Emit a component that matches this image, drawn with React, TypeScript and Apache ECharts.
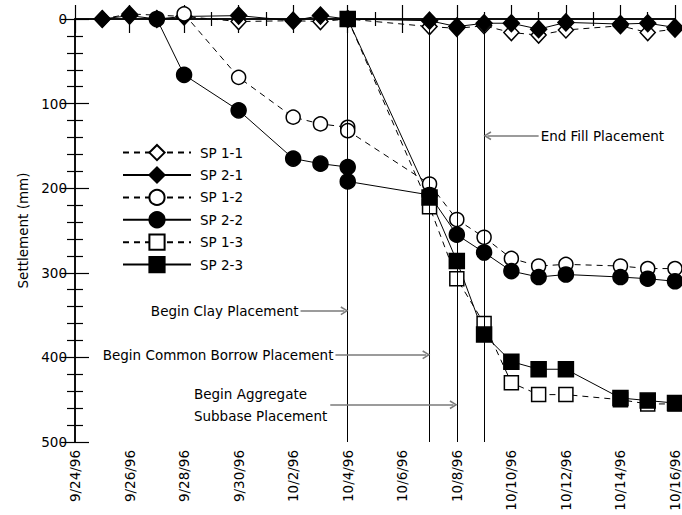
import React, { useEffect, useRef } from "react";
import * as echarts from "echarts";

const FONT = '"DejaVu Sans", Verdana, sans-serif';

// Tick labels (every 2 days)
const xTickLabels = [
  "9/24/96", "9/26/96", "9/28/96", "9/30/96", "10/2/96", "10/4/96",
  "10/6/96", "10/8/96", "10/10/96", "10/12/96", "10/14/96", "10/16/96",
];
const yTickValues = [0, 100, 200, 300, 400, 500];

// Series data (settlement in mm)
const sp11Dates = ["9/25/96", "9/26/96", "9/28/96", "9/30/96", "10/2/96", "10/3/96", "10/4/96", "10/7/96", "10/8/96", "10/9/96", "10/10/96", "10/11/96", "10/12/96", "10/14/96", "10/15/96", "10/16/96"];
const sp11Values = [0, -6, -3, 3, 2, 3, 0, 9, 11, 8, 16, 19, 13, 8, 16, 12];

const sp21Dates = ["9/25/96", "9/26/96", "9/27/96", "9/28/96", "9/30/96", "10/2/96", "10/3/96", "10/4/96", "10/7/96", "10/8/96", "10/9/96", "10/10/96", "10/11/96", "10/12/96", "10/14/96", "10/15/96", "10/16/96"];
const sp21Values = [0, -4, 0, -3, -4, 2, -4, 0, 2, 9, 5, 5, 12, 4, 6, 5, 10];

const sp12Dates = ["9/28/96", "9/30/96", "10/2/96", "10/3/96", "10/4/96", "10/4/96", "10/7/96", "10/8/96", "10/9/96", "10/10/96", "10/11/96", "10/12/96", "10/14/96", "10/15/96", "10/16/96"];
const sp12Values = [-6, 69, 116, 124, 128, 132, 195, 237, 258, 283, 292, 290, 292, 295, 295];

const sp22Dates = ["9/27/96", "9/28/96", "9/30/96", "10/2/96", "10/3/96", "10/4/96", "10/4/96", "10/7/96", "10/8/96", "10/9/96", "10/10/96", "10/11/96", "10/12/96", "10/14/96", "10/15/96", "10/16/96"];
const sp22Values = [0, 66, 108, 165, 171, 175, 192, 208, 255, 276, 298, 305, 302, 305, 307, 310];

const sp13Dates = ["10/4/96", "10/7/96", "10/8/96", "10/9/96", "10/10/96", "10/11/96", "10/12/96", "10/14/96", "10/15/96", "10/16/96"];
const sp13Values = [0, 222, 307, 360, 430, 444, 444, 450, 455, 455];

const sp23Dates = ["10/4/96", "10/7/96", "10/8/96", "10/9/96", "10/10/96", "10/11/96", "10/12/96", "10/14/96", "10/15/96", "10/16/96"];
const sp23Values = [0, 211, 286, 373, 405, 414, 414, 448, 451, 454];

// Event lines
const eventDates = ["10/4/96", "10/7/96", "10/8/96", "10/9/96"];

// Annotations
const annotationTexts = ["Begin Clay Placement", "Begin Common Borrow Placement", "Begin Aggregate\nSubbase Placement", "End Fill Placement"];
const annotationTargets = ["10/4/96", "10/7/96", "10/8/96", "10/9/96"];
const annotationLevels = [345, 397, 456, 138];
const annotationTails = [8.27, 9.55, 9.36, 17.0];

const dayOf = (s: string) => {
  const [m, d, y] = s.split("/").map(Number);
  const t = Date.UTC(1900 + y, m - 1, d);
  const t0 = Date.UTC(1996, 8, 24);
  return Math.round((t - t0) / 86400000);
};

const X_MAX = dayOf(xTickLabels[xTickLabels.length - 1]);

const chevron = "path://M5,0 L10,9 L8.4,10 L5,3.4 L1.6,10 L0,9 Z";

function makeSeries(name: string, dates: string[], values: number[], symbol: string, filled: boolean, dashed: boolean, size: number | number[]) {
  return {
    name,
    type: "line",
    data: dates.map((d, i) => [dayOf(d), values[i]]),
    symbol,
    symbolSize: size,
    showSymbol: true,
    clip: false,
    lineStyle: { color: "#000", width: 1, type: dashed ? [6, 5] : "solid" },
    itemStyle: { color: filled ? "#000" : "#fff", borderColor: "#000", borderWidth: 1.5 },
    emphasis: { disabled: true },
  } as any;
}

export default function App() {
  const ref = useRef<HTMLDivElement>(null);
  useEffect(() => {
    if (!ref.current) return;
    const chart = echarts.init(ref.current, undefined, { renderer: "svg" });
    const gray = "#7a7a7a";

    const axisCommon = {
      type: "value",
      min: 0,
      max: X_MAX,
      interval: 2,
      axisLine: { show: true, lineStyle: { color: "#000", width: 1.5 } },
      axisTick: { show: true, inside: true, length: 14, lineStyle: { color: "#000", width: 1.2 } },
      minorTick: { show: true, splitNumber: 2, length: 7, lineStyle: { color: "#000", width: 1.2 } },
      splitLine: { show: false },
      minorSplitLine: { show: false },
    };
    const yCommon = {
      type: "value",
      min: 0,
      max: 500,
      interval: 100,
      inverse: true,
      axisLine: { show: true, lineStyle: { color: "#000", width: 1.5 } },
      axisTick: { show: true, inside: true, length: 14, lineStyle: { color: "#000", width: 1.2 } },
      minorTick: { show: true, splitNumber: 5, length: 8, lineStyle: { color: "#000", width: 1.2 } },
      splitLine: { show: false },
      minorSplitLine: { show: false },
    };

    const s11 = makeSeries("SP 1-1", sp11Dates, sp11Values, "diamond", false, true, [15, 16]);
    const s21 = makeSeries("SP 2-1", sp21Dates, sp21Values, "diamond", true, false, [16, 17]);
    const s12 = makeSeries("SP 1-2", sp12Dates, sp12Values, "circle", false, true, 14);
    const s22 = makeSeries("SP 2-2", sp22Dates, sp22Values, "circle", true, false, 15);
    const s13 = makeSeries("SP 1-3", sp13Dates, sp13Values, "rect", false, true, 14);
    const s23 = makeSeries("SP 2-3", sp23Dates, sp23Values, "rect", true, false, 15);

    s11.markLine = {
      silent: true,
      animation: false,
      symbol: ["none", "none"],
      label: { show: false },
      emphasis: { disabled: true },
      data: [
        ...eventDates.map((d) => ({
          xAxis: dayOf(d),
          lineStyle: { color: "#000", width: 1, type: "solid" },
        })),
        ...annotationTexts.map((t, i) => [
          {
            coord: [annotationTails[i], annotationLevels[i]],
            symbol: "none",
            lineStyle: { color: gray, width: 1.5, type: "solid" },
          },
          {
            coord: [dayOf(annotationTargets[i]) + (annotationTails[i] > dayOf(annotationTargets[i]) ? 0.12 : -0.12), annotationLevels[i]],
            symbol: chevron,
            symbolSize: [9, 8],
          },
        ]),
      ],
    };

    const option: any = {
      animation: false,
      textStyle: { fontFamily: FONT },
      grid: { left: 75, right: 6, top: 19, bottom: 73, containLabel: false },
      legend: {
        show: true,
        orient: "vertical",
        left: 117,
        top: 139,
        itemWidth: 68,
        itemHeight: 19,
        itemGap: 5.2,
        selectedMode: false,
        data: ["SP 1-1", "SP 2-1", "SP 1-2", "SP 2-2", "SP 1-3", "SP 2-3"],
        textStyle: { fontFamily: FONT, fontSize: 13.5, color: "#000", padding: [0, 0, 0, 4] },
      },
      xAxis: [
        {
          ...axisCommon,
          position: "bottom",
          axisLabel: {
            show: true,
            rotate: 90,
            margin: 8,
            color: "#000",
            fontFamily: FONT,
            fontSize: 13.5,
            formatter: (v: number) => xTickLabels[Math.round(v / 2)] ?? "",
          },
        },
        { ...axisCommon, position: "top", axisLabel: { show: false } },
      ],
      yAxis: [
        {
          ...yCommon,
          position: "left",
          name: "Settlement (mm)",
          nameLocation: "middle",
          nameGap: 32,
          nameRotate: 90,
          nameTextStyle: { fontFamily: FONT, fontSize: 13.5, color: "#000" },
          axisLabel: {
            show: true,
            margin: 8,
            color: "#000",
            fontFamily: FONT,
            fontSize: 13.5,
            formatter: (v: number) => (yTickValues.includes(v) ? String(v) : ""),
          },
        },
        { ...yCommon, position: "right", axisLabel: { show: false } },
      ],
      series: [s11, s21, s12, s22, s13, s23],
    };
    chart.setOption(option);

    // annotation texts, placed next to the arrow tails
    const graphics = annotationTexts.map((t, i) => {
      const [px, py] = chart.convertToPixel({ xAxisIndex: 0, yAxisIndex: 0 } as any, [annotationTails[i], annotationLevels[i]]) as number[];
      const rightSide = annotationTails[i] > dayOf(annotationTargets[i]);
      const multi = t.includes("\n");
      let x = rightSide ? px + 2 : px - 2;
      let align = rightSide ? "left" : "right";
      if (multi) {
        const lines = t.split("\n");
        const c = document.createElement("canvas").getContext("2d")!;
        c.font = `13.5px ${FONT}`;
        const w = Math.max(...lines.map((l) => c.measureText(l).width));
        x = px - 3 - w;
        align = "left";
      }
      return {
        type: "text",
        x,
        y: py,
        silent: true,
        style: {
          text: t,
          fill: "#000",
          font: `13.5px ${FONT}`,
          align,
          verticalAlign: "middle",
          lineHeight: 22,
        },
      };
    });
    chart.setOption({ graphic: graphics });

    return () => chart.dispose();
  }, []);

  return (
    <div
      ref={ref}
      style={{ position: "fixed", left: 0, top: 0, width: 682, height: 515, background: "#fff" }}
    />
  );
}
